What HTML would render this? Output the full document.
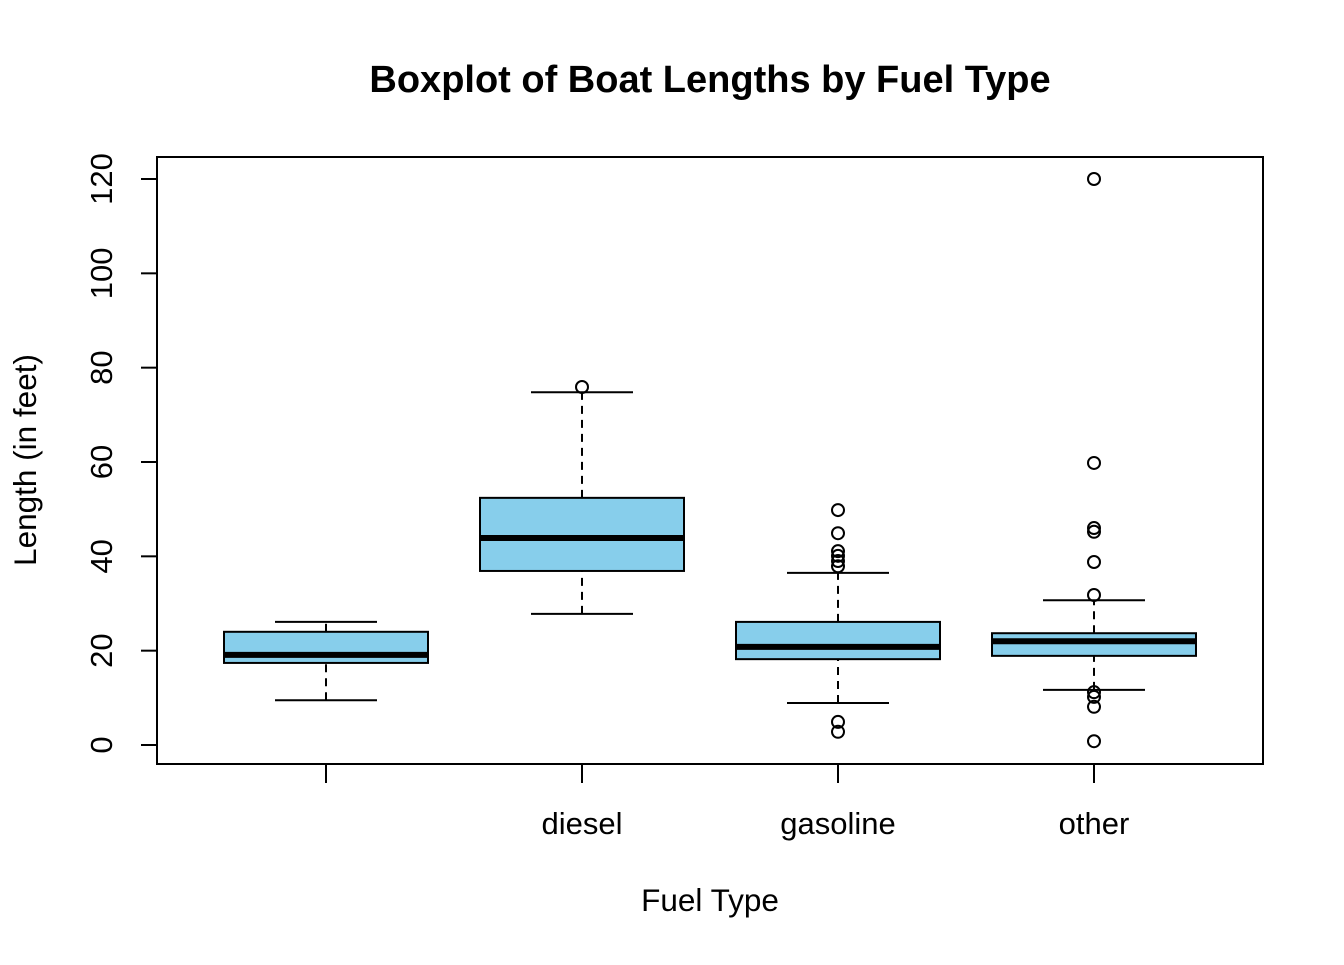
<!DOCTYPE html>
<html><head><meta charset="utf-8"><style>
html,body{margin:0;padding:0;background:#fff;}
svg text{font-family:"Liberation Sans",Arial,sans-serif;}
</style></head><body>
<svg id="chart" width="1344" height="960" xmlns="http://www.w3.org/2000/svg">
<text x="710" y="92" text-anchor="middle" font-size="38" font-weight="bold">Boxplot of Boat Lengths by Fuel Type</text>
<rect x="157" y="157" width="1106" height="607" fill="none" stroke="#000" stroke-width="2"/>
<text x="710" y="911" text-anchor="middle" font-size="31.5">Fuel Type</text>
<text transform="translate(36,460) rotate(-90)" text-anchor="middle" font-size="31.5">Length (in feet)</text>
<g id="marks"></g>
</svg>
<script>
const categories = ["", "diesel", "gasoline", "other"];
const whiskerLow = [9.5, 27.8, 8.9, 11.7];
const q1 = [17.4, 36.9, 18.2, 18.9];
const medians = [19.1, 43.9, 20.8, 22.0];
const q3 = [24.0, 52.4, 26.1, 23.7];
const whiskerHigh = [26.1, 74.8, 36.5, 30.7];
const outliers = [[], [75.9], [49.8, 44.9, 41.1, 40.1, 39.0, 37.9, 4.9, 2.8], [120, 59.8, 46.0, 45.2, 38.8, 31.8, 11.2, 10.2, 8.1, 0.8]];
const yTicks = [0, 20, 40, 60, 80, 100, 120];

const NS = "http://www.w3.org/2000/svg";
const g = document.getElementById("marks");
function y(v){ return 745 - v * (566/120); }
function x(i){ return 326 + i * 256; }
function el(tag, attrs){ const e = document.createElementNS(NS, tag); for (const k in attrs) e.setAttribute(k, attrs[k]); g.appendChild(e); return e; }

yTicks.forEach(t => {
  const tk = el("line", {x1:157, x2:141, y1:y(t), y2:y(t), stroke:"#000", "stroke-width":2});
  
  
  const lb = el("text", {transform:`translate(112,${y(t)}) rotate(-90)`, "text-anchor":"middle", "font-size":31});
  lb.textContent = t;
  
  
});

categories.forEach((c, i) => {
  const cx = x(i), hw = 102, cw = 51;
  const tk = el("line", {x1:cx, x2:cx, y1:764, y2:783, stroke:"#000", "stroke-width":2});
  
  
  const lb = el("text", {x:cx, y:834, "text-anchor":"middle", "font-size":31});
  lb.textContent = c;
  
  

  const w1 = el("line", {x1:cx, x2:cx, y1:y(whiskerLow[i]), y2:y(q1[i]), stroke:"#000", "stroke-width":2, "stroke-dasharray":"8,6"});
  
  
  const w2 = el("line", {x1:cx, x2:cx, y1:y(q3[i]), y2:y(whiskerHigh[i]), stroke:"#000", "stroke-width":2, "stroke-dasharray":"8,6"});
  
  
  const c1 = el("line", {x1:cx-cw, x2:cx+cw, y1:y(whiskerLow[i]), y2:y(whiskerLow[i]), stroke:"#000", "stroke-width":2});
  
  
  const c2 = el("line", {x1:cx-cw, x2:cx+cw, y1:y(whiskerHigh[i]), y2:y(whiskerHigh[i]), stroke:"#000", "stroke-width":2});
  
  
  const bx = el("rect", {x:cx-hw, y:y(q3[i]), width:2*hw, height:y(q1[i])-y(q3[i]), fill:"#87ceeb", stroke:"#000", "stroke-width":2});
  
  
  const md = el("line", {x1:cx-hw, x2:cx+hw, y1:y(medians[i]), y2:y(medians[i]), stroke:"#000", "stroke-width":6});
  
  
  outliers[i].forEach(v => {
    const o = el("circle", {cx:cx, cy:y(v), r:6, fill:"none", stroke:"#000", "stroke-width":2});
    
    
  });
});
</script>
</body></html>
